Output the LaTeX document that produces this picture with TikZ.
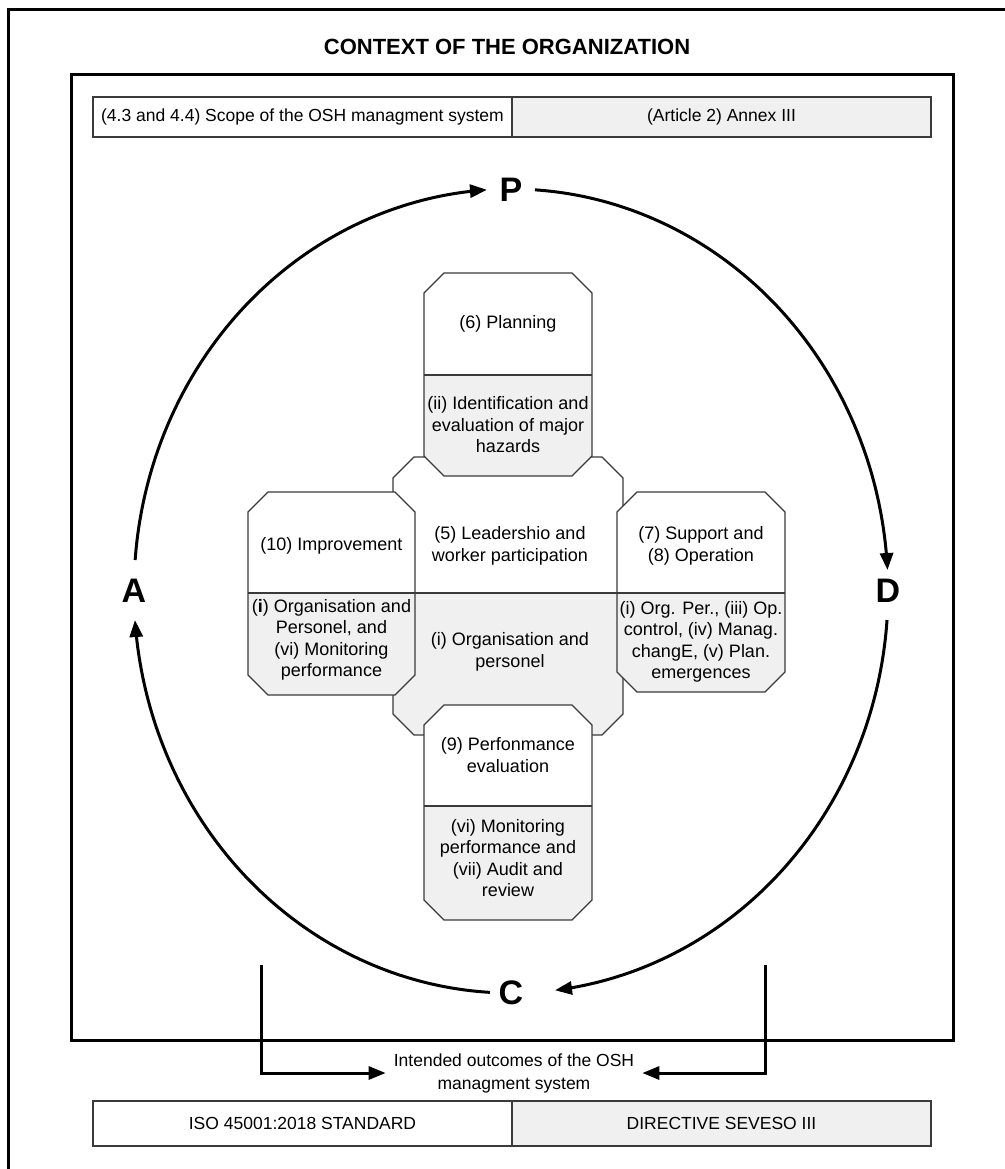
\documentclass[tikz,border=0pt]{standalone}
\usepackage{fontspec}
\setmainfont{Liberation Sans}
\usetikzlibrary{arrows.meta}
\definecolor{boxgray}{HTML}{F0F0F0}
\definecolor{edge}{HTML}{3A3A3A}
% #1 x1, #2 y1, #3 x2, #4 y2, #5 y of divider, #6 chamfer
\newcommand\octbox[6]{%
  \fill[white] (#1,#5) -- (#1,#2+#6) -- (#1+#6,#2) -- (#3-#6,#2) -- (#3,#2+#6) -- (#3,#5) -- cycle;
  \fill[boxgray] (#1,#5) -- (#3,#5) -- (#3,#4-#6) -- (#3-#6,#4) -- (#1+#6,#4) -- (#1,#4-#6) -- cycle;
  \draw[boxline] (#1,#2+#6) -- (#1+#6,#2) -- (#3-#6,#2) -- (#3,#2+#6) -- (#3,#4-#6) -- (#3-#6,#4) -- (#1+#6,#4) -- (#1,#4-#6) -- cycle;
  \draw[boxline] (#1,#5) -- (#3,#5);
}
\begin{document}
\begin{tikzpicture}[x=1pt,y=-1pt,
  boxline/.style={draw=edge, line width=1.1pt},
  txt/.style={font=\fontsize{18}{21.5}\selectfont, align=center, inner sep=0pt},
  barcell/.style={boxline, font=\fontsize{17.5}{20}\selectfont, minimum width=419pt, inner sep=0pt},
  letter/.style={font=\fontsize{34}{34}\selectfont\bfseries, inner sep=0pt},
  cyc/.style={line width=3pt, -{Triangle[length=17pt,width=13pt]}},
  outarrow/.style={line width=3pt, -{Triangle[length=17pt,width=13pt]}},
  frame/.style={line width=3pt}
]
\useasboundingbox (0,0) rectangle (1004,1169);
\fill[white] (0,0) rectangle (1004,1169);

% outer frame (cut at right and bottom)
\draw[frame] (8,1180) -- (8,10) -- (1015,10);
\node[font=\fontsize{22}{25}\selectfont\bfseries, inner sep=0pt] (title) at (507,47) {CONTEXT OF THE ORGANIZATION};

% inner frame
\draw[frame] (71,75) rectangle (953,1040);

% top bar
\node[barcell, fill=white, minimum height=40pt] (scope) at (302.5,117) {(4.3 and 4.4) Scope of the OSH managment system};
\node[barcell, fill=boxgray, minimum height=40pt] (annex) at (721.5,117) {(Article 2) Annex III};

% PDCA letters
\node[letter] (P) at (511,190) {P};
\node[letter] (D) at (888,591) {D};
\node[letter] (C) at (511,993) {C};
\node[letter] (A) at (134,591) {A};

% PDCA arcs (centre (511,591), radii 377 x 402)
\draw[cyc] plot[domain=-175.58:-93.65, samples=90, smooth] ({511+377*cos(\x)},{591+402*sin(\x)});
\draw[cyc] plot[domain=-86.35:-2.99, samples=90, smooth] ({511+377*cos(\x)},{591+402*sin(\x)});
\draw[cyc] plot[domain=4.14:83.3, samples=90, smooth] ({511+377*cos(\x)},{591+402*sin(\x)});
\draw[cyc] plot[domain=93.2:175.86, samples=90, smooth] ({511+377*cos(\x)},{591+402*sin(\x)});

% central shape
\octbox{393}{457}{623}{735}{593}{21}
\node[txt] (lead) at (510,546) {(5) Leadershio and\\worker participation};
\node[txt] (orgp) at (510,652) {(i) Organisation and\\personel};

% planning
\octbox{424}{273}{592}{476}{375}{20}
\node[txt] (plan) at (508,324) {(6) Planning};
\node[txt] (haz) at (508,425) {(ii) Identification and\\evaluation of major\\hazards};

% improvement
\octbox{248}{492}{415}{695}{593}{20}
\node[txt] (impr) at (331.5,546) {(10) Improvement};
\node[txt] (imprb) at (331.5,640) {(\textbf{i}) Organisation and\\Personel, and\\(vi) Monitoring\\performance};

% support
\octbox{617}{492}{785}{692}{593}{20}
\node[txt] (supp) at (701,546) {(7) Support and\\(8) Operation};
\node[txt] (suppb) at (701,642) {(i) Org. Per., (iii) Op.\\control, (iv) Manag.\\changE, (v) Plan.\\emergences};

% performance
\octbox{424}{705}{592}{920}{806}{20}
\node[txt] (perf) at (508,755) {(9) Perfonmance\\evaluation};
\node[txt] (perfb) at (508,858) {(vi) Monitoring\\performance and\\(vii) Audit and\\review};

% outcomes
\node[font=\fontsize{17.5}{23}\selectfont, align=center, inner ysep=0pt, inner xsep=8pt] (out) at (514,1073) {Intended outcomes of the OSH\\managment system};
\coordinate (ls) at (261,965);
\coordinate (rs) at (765,965);
\draw[outarrow] (ls) |- (out.west);
\draw[outarrow] (rs) |- (out.east);

% bottom bar
\node[barcell, fill=white, minimum height=45pt] (iso) at (302.5,1123.5) {ISO 45001:2018 STANDARD};
\node[barcell, fill=boxgray, minimum height=45pt] (seveso) at (721.5,1123.5) {DIRECTIVE SEVESO III};
\end{tikzpicture}
\end{document}
